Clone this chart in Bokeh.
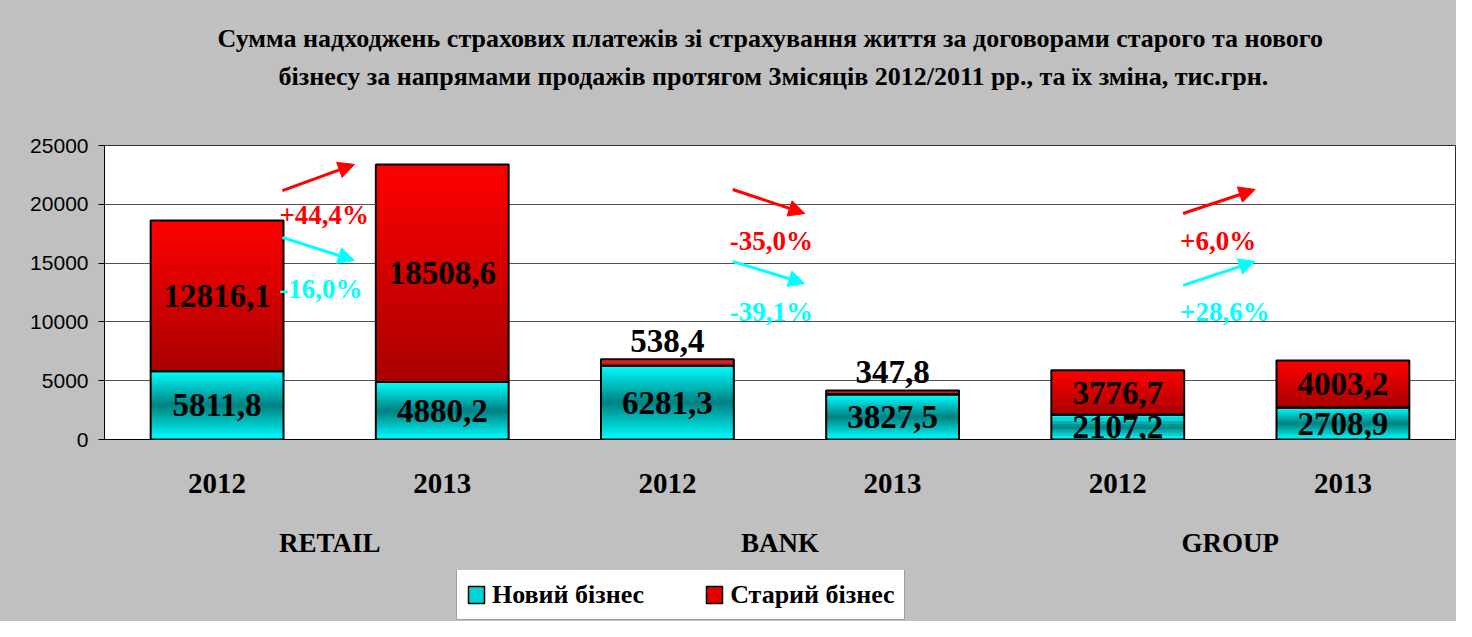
import numpy as np
from bokeh.plotting import figure
from bokeh.layouts import column
from bokeh.models import (FactorRange, Range1d, CategoricalAxis, FixedTicker, ColumnDataSource,
                          Legend, LegendItem, Arrow, NormalHead, Title)
from bokeh.core.properties import value
from bokeh.embed import file_html
from bokeh.resources import INLINE

# ---------------- data ----------------
groups = ["RETAIL", "BANK", "GROUP"]
years = ["2012", "2013"]
new_business = [5811.8, 4880.2, 6281.3, 3827.5, 2107.2, 2708.9]
old_business = [12816.1, 18508.6, 538.4, 347.8, 3776.7, 4003.2]
change_old = ["+44,4%", "-35,0%", "+6,0%"]
change_new = ["-16,0%", "-39,1%", "+28,6%"]
y_ticks = [0, 5000, 10000, 15000, 20000, 25000]
series_names = ["Новий бізнес", "Старий бізнес"]
title_lines = [
    "Сумма надходжень страхових платежів зі страхування життя за договорами старого та нового",
    "бізнесу за напрямами продажів протягом 3місяців 2012/2011 рр., та їх зміна, тис.грн.",
]

# annotation anchors (data units)
arrow_old_y = [(21170, 23390), (21260, 19220), (19220, 21260)]
arrow_new_y = [(17180, 15220), (15140, 13270), (13100, 15140)]
change_old_y = [19050, 16920, 16920]
change_new_y = [12840, 10800, 10800]

# ---------------- styling ----------------
SERIF = "Liberation Serif"
SANS = "Liberation Sans"
RED = "#FF0000"
CYAN = "#00FFFF"
GRAY = "#C0C0C0"
BAR_W = 0.59
N_STRIPS = 32
W = 1456
H_MAIN = 570
H_LEG = 51

factors = [(g, y) for g in groups for y in years]
totals = [n + o for n, o in zip(new_business, old_business)]


def fmt(v):
    return f"{v:.1f}".replace(".", ",")


def lerp(c1, c2, s):
    return "#%02x%02x%02x" % tuple(int(round(a + (b - a) * s)) for a, b in zip(c1, c2))


def cyan_grad(frac):
    s = 1 - abs(2 * frac - 1)
    return lerp((0, 255, 255), (0, 128, 128), s)


def red_grad(frac):
    return lerp((255, 0, 0), (168, 0, 0), frac)


def strip_source(bottoms, tops, color_fn):
    xs, bs, ts, cs = [], [], [], []
    for f, b, t in zip(factors, bottoms, tops):
        h = (t - b) / N_STRIPS
        for k in range(N_STRIPS):
            xs.append(f)
            ts.append(t - k * h)
            bs.append(max(b, t - (k + 1.6) * h))
            cs.append(color_fn((k + 0.5) / N_STRIPS))
    return ColumnDataSource(dict(x=xs, bottom=bs, top=ts, color=cs))


x_range = FactorRange(*factors, factor_padding=0, group_padding=0, subgroup_padding=0, range_padding=0)
p = figure(
    width=W, height=H_MAIN, x_range=x_range, y_range=Range1d(0, 25000),
    output_backend="svg", toolbar_location=None, title=None,
    min_border_left=104, min_border_right=1, min_border_top=145, min_border_bottom=H_MAIN - 439,
)
p.background_fill_color = "white"
p.border_fill_color = GRAY
p.outline_line_color = "#303030"
p.outline_line_width = 1

# bars with gradient strips
zeros = [0] * len(factors)
src_new = strip_source(zeros, new_business, cyan_grad)
src_old = strip_source(new_business, totals, red_grad)
p.vbar(x="x", bottom="bottom", top="top", width=BAR_W, fill_color="color",
       line_color=None, source=src_new)
p.vbar(x="x", bottom="bottom", top="top", width=BAR_W, fill_color="color",
       line_color=None, source=src_old)
p.vbar(x=factors, bottom=0, top=new_business, width=BAR_W, fill_color=None,
       line_color="black", line_width=2)
p.vbar(x=factors, bottom=new_business, top=totals, width=BAR_W, fill_color=None,
       line_color="black", line_width=2)

# value labels
lbl_font = dict(text_font=value(SERIF), text_font_style="bold", text_font_size="33px",
                text_color="black", text_align="center")
p.text(x=factors, y=[n / 2 for n in new_business], text=[fmt(v) for v in new_business],
       text_baseline="middle", **lbl_font)
inside = [o >= 1500 for o in old_business]
p.text(x=[f for f, i in zip(factors, inside) if i],
       y=[n + o / 2 for n, o, i in zip(new_business, old_business, inside) if i],
       text=[fmt(o) for o, i in zip(old_business, inside) if i],
       text_baseline="middle", **lbl_font)
p.text(x=[f for f, i in zip(factors, inside) if not i],
       y=[t for t, i in zip(totals, inside) if not i],
       text=[fmt(o) for o, i in zip(old_business, inside) if not i],
       text_baseline="bottom", y_offset=-7, **lbl_font)

# change arrows and labels
for g in range(len(groups)):
    center = 2 * g + 1
    xs, xe = center - 0.21, center + 0.11
    for (ys, ye), col in ((arrow_old_y[g], RED), (arrow_new_y[g], CYAN)):
        p.add_layout(Arrow(end=NormalHead(size=16, fill_color=col, line_color=col),
                           x_start=xs, y_start=ys, x_end=xe, y_end=ye,
                           line_color=col, line_width=3))
chg_x = [2 * g + 1 - 0.21 for g in range(len(groups))]
chg_font = dict(text_font=value(SERIF), text_font_style="bold", text_font_size="27px",
                text_align="left", text_baseline="middle", x_offset=-3)
p.text(x=chg_x, y=change_old_y, text=change_old, text_color=RED, **chg_font)
p.text(x=chg_x, y=change_new_y, text=change_new, text_color=CYAN, **chg_font)

# y axis
p.yaxis.ticker = FixedTicker(ticks=y_ticks)
p.yaxis.major_label_text_font = SANS
p.yaxis.major_label_text_font_size = "21px"
p.yaxis.major_label_text_color = "black"
p.yaxis.major_tick_out = 6
p.yaxis.major_tick_in = 0
p.yaxis.minor_tick_line_color = None
p.yaxis.axis_line_color = "black"
p.yaxis.major_tick_line_color = "black"
p.yaxis.major_label_standoff = 10
p.ygrid.ticker = FixedTicker(ticks=y_ticks)
p.ygrid.grid_line_color = "#505050"
p.xgrid.visible = False

# x axis: years
xa = p.xaxis[0]
xa.major_label_text_font = SERIF
xa.major_label_text_font_style = "bold"
xa.major_label_text_font_size = "29px"
xa.major_label_text_color = "black"
xa.major_tick_line_color = None
xa.major_tick_out = 0
xa.major_label_standoff = 34
xa.axis_line_color = "black"
xa.separator_line_color = None
xa.group_text_font_size = "0px"
xa.group_text_alpha = 0

# x axis: groups
p.extra_x_ranges = {"grp": FactorRange(*groups, factor_padding=0, range_padding=0)}
ga = CategoricalAxis(x_range_name="grp")
ga.major_label_text_font = SERIF
ga.major_label_text_font_style = "bold"
ga.major_label_text_font_size = "27px"
ga.major_label_text_color = "black"
ga.major_tick_line_color = None
ga.major_tick_out = 0
ga.axis_line_color = None
ga.major_label_standoff = 32
p.add_layout(ga, "below")

# title: spacer (nearest the frame, same colour as the border), then line 2, then line 1
title_style = dict(align="left", text_font=SERIF, text_font_style="bold",
                   text_font_size="26px", text_color="black")
p.add_layout(Title(text=".", text_font_size="2px", text_color=GRAY, standoff=50), "above")
p.add_layout(Title(text=title_lines[1], offset=174, standoff=4, **title_style), "above")
p.add_layout(Title(text=title_lines[0], offset=113, standoff=10, **title_style), "above")

# legend strip (separate figure so the legend is not clipped by the main frame);
# its proxy bars have no bottom, so they draw nothing and only feed the legend swatches
q = figure(width=W, height=H_LEG, x_range=x_range, y_range=Range1d(0, 25000),
           output_backend="svg", toolbar_location=None, title=None,
           x_axis_type=None, y_axis_type=None, min_border=0)
q.background_fill_color = GRAY
q.border_fill_color = GRAY
q.outline_line_color = None
q.grid.visible = False
no_bottom = np.full(len(factors), np.nan)
r_leg_new = q.vbar(x=factors, top=np.array(new_business), bottom=no_bottom, width=BAR_W,
                   fill_color=lerp((0, 255, 255), (0, 128, 128), 0.35),
                   line_color="black", line_width=1.5)
r_leg_old = q.vbar(x=factors, top=np.array(totals), bottom=no_bottom, width=BAR_W,
                   fill_color=lerp((255, 0, 0), (168, 0, 0), 0.3),
                   line_color="black", line_width=1.5)
legend = Legend(
    items=[LegendItem(label=series_names[0], renderers=[r_leg_new], index=0),
           LegendItem(label=series_names[1], renderers=[r_leg_old], index=0)],
    orientation="horizontal", location=(352, 1),
    label_text_font=SERIF, label_text_font_style="bold", label_text_font_size="26px",
    label_text_color="black", glyph_width=20, glyph_height=21, label_standoff=6,
    spacing=60, padding=9, margin=0, label_height=31,
    border_line_color="#404040", border_line_width=1, background_fill_color="white",
    background_fill_alpha=1,
)
q.add_layout(legend)

layout = column(p, q, spacing=0, styles={"background-color": GRAY})
open("out.html", "w").write(file_html(layout, INLINE))
